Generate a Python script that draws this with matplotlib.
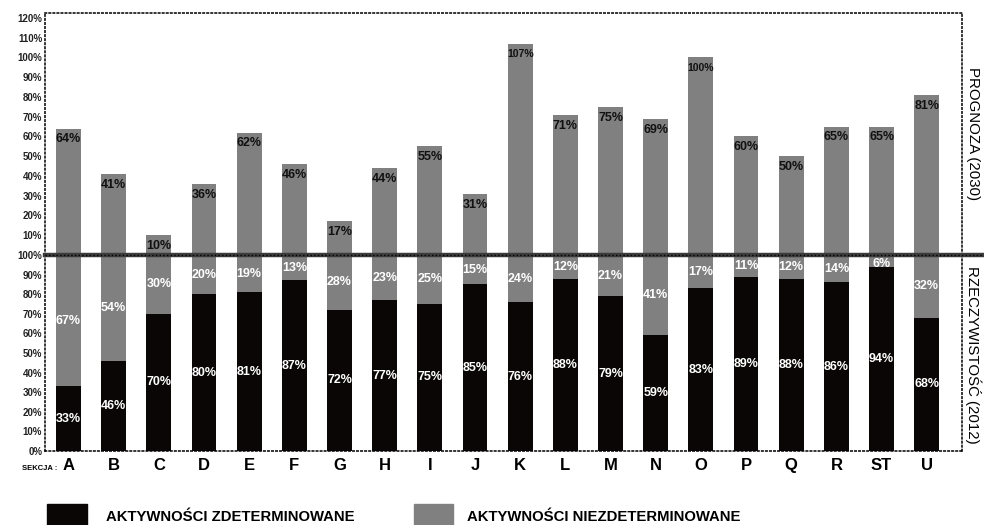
###########
# IMPORTS #
###########

import numpy as np
import matplotlib
matplotlib.use("Agg")
import matplotlib.pyplot as plt
from matplotlib.lines import Line2D
from matplotlib.patches import Rectangle

########
# DATA #
########

sekcje = ["A", "B", "C", "D", "E", "F", "G", "H", "I", "J",
          "K", "L", "M", "N", "O", "P", "Q", "R", "ST", "U"]

# prognoza 2030 - aktywnosci niezdeterminowane
prognoza = [64, 41, 10, 36, 62, 46, 17, 44, 55, 31,
            107, 71, 75, 69, 100, 60, 50, 65, 65, 81]

# stan 2012
zdeterminowane = [33, 46, 70, 80, 81, 87, 72, 77, 75, 85,
                  76, 88, 79, 59, 83, 89, 88, 86, 94, 68]
niezdeterminowane = [67, 54, 30, 20, 19, 13, 28, 23, 25, 15,
                     24, 12, 21, 41, 17, 11, 12, 14, 6, 32]

CZARNY = "#0a0606"
SZARY = "#808080"

plt.rcParams['font.family'] = ['Liberation Sans', 'DejaVu Sans']

###########
# WYKRES  #
###########

fig = plt.figure(figsize=(9.84, 5.25), dpi=100)

left = 45 / 984
width = (962 - 45) / 984
y_mid = 1 - 255 / 525
y_bot = 1 - 451 / 525
y_top = 1 - 13 / 525

ax_top = fig.add_axes([left, y_mid, width, y_top - y_mid])
ax_bot = fig.add_axes([left, y_bot, width, y_mid - y_bot])

x = np.arange(len(sekcje))
w = 0.55

# gorny panel - prognoza
ax_top.bar(x, prognoza, width=w, color=SZARY, zorder=2)
for xi, v in zip(x, prognoza):
    fs = 7.5 if v >= 100 else 9
    ax_top.text(xi, v - 5.5, f"{v}%", ha="center", va="center",
                fontsize=fs, fontweight="bold", color="#111111", zorder=3)

ax_top.set_ylim(0, 122.5)
ax_top.set_yticks(range(10, 121, 10))
ax_top.set_yticklabels([f"{t}%" for t in range(10, 121, 10)])

# dolny panel - rzeczywistosc
ax_bot.bar(x, zdeterminowane, width=w, color=CZARNY, zorder=2)
ax_bot.bar(x, niezdeterminowane, width=w, bottom=zdeterminowane,
           color=SZARY, zorder=2)
for xi, a, b in zip(x, zdeterminowane, niezdeterminowane):
    ax_bot.text(xi, a / 2, f"{a}%", ha="center", va="center",
                fontsize=9, fontweight="bold", color="white", zorder=3)
    # male segmenty - napis troche nizej, zeby nie wchodzil na linie
    yb = a + b / 2 if b >= 8 else a + b / 2 - 1.5
    ax_bot.text(xi, yb, f"{b}%", ha="center", va="center",
                fontsize=9, fontweight="bold", color="white", zorder=3)

ax_bot.set_ylim(0, 100)
ax_bot.set_yticks(range(0, 101, 10))
ax_bot.set_yticklabels([f"{t}%" for t in range(0, 101, 10)])
ax_bot.set_xticks(x)
ax_bot.set_xticklabels(sekcje, fontsize=12, fontweight="bold")

for ax in (ax_top, ax_bot):
    ax.set_xlim(-0.52, 19.78)
    ax.tick_params(axis="y", length=0, pad=2, labelsize=7,
                   labelcolor="#222222")
    for lab in ax.get_yticklabels():
        lab.set_fontweight("bold")
    for s in ax.spines.values():
        s.set_linestyle(":")
        s.set_linewidth(1.1)
        s.set_color("black")

ax_top.set_xticks([])
ax_top.spines["bottom"].set_visible(False)
ax_bot.spines["top"].set_visible(False)
ax_bot.tick_params(axis="x", length=0, pad=5)

# gruba linia rozdzielajaca panele
fig.add_artist(Line2D([left, 1.0], [y_mid, y_mid], color="#3c3c3c",
                      linewidth=3.2, zorder=5))
fig.add_artist(Line2D([left, 1.0], [y_mid, y_mid], color="black",
                      linewidth=1.0, linestyle=":", zorder=6))

fig.text(57 / 984, 1 - 468 / 525, "SEKCJA :", ha="right", va="center",
         fontsize=5.5, fontweight="bold")

# opisy paneli po prawej
fig.text(973 / 984, 1 - 134 / 525, "PROGNOZA (2030)", rotation=270,
         ha="center", va="center", fontsize=10.8)
fig.text(973 / 984, 1 - 355 / 525, "RZECZYWISTOŚĆ (2012)", rotation=270,
         ha="center", va="center", fontsize=10.8)

# legenda
fig.add_artist(Rectangle((47 / 984, 0), 40 / 984, 21 / 525,
                         transform=fig.transFigure, color=CZARNY))
fig.text(106 / 984, 1 - 517 / 525, "AKTYWNOŚCI ZDETERMINOWANE",
         ha="left", va="center", fontsize=10.7, fontweight="bold")
fig.add_artist(Rectangle((414 / 984, 0), 39 / 984, 21 / 525,
                         transform=fig.transFigure, color=SZARY))
fig.text(467 / 984, 1 - 517 / 525, "AKTYWNOŚCI NIEZDETERMINOWANE",
         ha="left", va="center", fontsize=10.7, fontweight="bold")

fig.savefig("out.png", dpi=100)
